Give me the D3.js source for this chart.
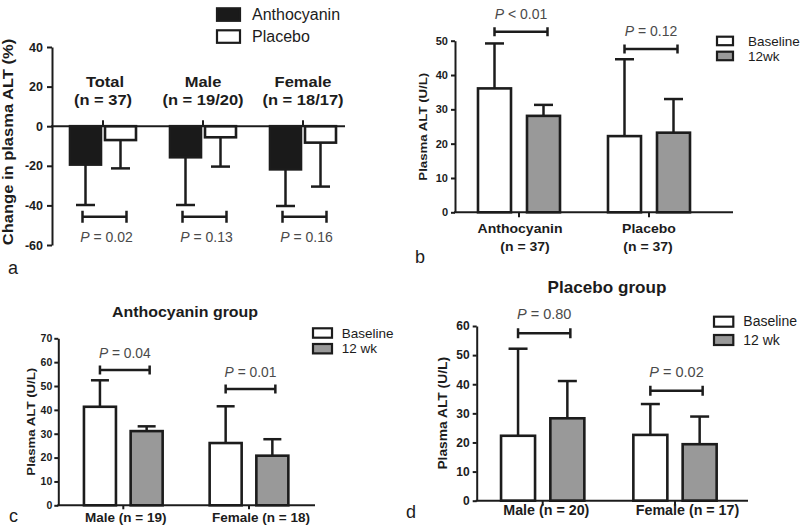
<!DOCTYPE html>
<html><head><meta charset="utf-8">
<script src="https://cdn.jsdelivr.net/npm/d3@7"></script>
<style>body{margin:0;background:#fff} svg{display:block}</style>
</head><body><svg id="c" width="800" height="531"></svg>
<script>
// ---------- DATA ----------
// Panel a: % change in plasma ALT
const aGroups = ["Total", "Male", "Female"];
const aGroupN = ["(n = 37)", "(n = 19/20)", "(n = 18/17)"];
const aSeries = ["Anthocyanin", "Placebo"];
const aAntho = [-19.4, -15.7, -21.8];
const aAnthoSD = [20.4, 24.1, 18.5];
const aPlacebo = [-7.0, -5.6, -8.3];
const aPlaceboSD = [14.3, 14.8, 22.2];
const aP = ["= 0.02", "= 0.13", "= 0.16"];
const aPLevel = [-45.7, -45.7, -45.7];
const aTicks = [40, 20, 0, -20, -40, -60];

// Panel b: plasma ALT by treatment
const bGroups = ["Anthocyanin", "Placebo"];
const bGroupN = ["(n = 37)", "(n = 37)"];
const bSeries = ["Baseline", "12wk"];
const bBaseline = [36.1, 22.2];
const bBaselineSD = [13.1, 22.4];
const bWk12 = [28.1, 23.2];
const bWk12SD = [3.2, 9.8];
const bP = ["< 0.01", "= 0.12"];
const bPLevel = [52.6, 47.6];
const bTicks = [0, 10, 20, 30, 40, 50];

// Panel c: Anthocyanin group
const cGroups = ["Male (n = 19)", "Female (n = 18)"];
const cSeries = ["Baseline", "12 wk"];
const cBaseline = [41.3, 26.1];
const cBaselineSD = [11.1, 15.4];
const cWk12 = [31.1, 20.8];
const cWk12SD = [2.0, 6.9];
const cP = ["= 0.04", "= 0.01"];
const cPLevel = [56.7, 48.7];
const cTicks = [0, 10, 20, 30, 40, 50, 60, 70];

// Panel d: Placebo group
const dGroups = ["Male (n = 20)", "Female (n = 17)"];
const dSeries = ["Baseline", "12 wk"];
const dBaseline = [22.3, 22.6];
const dBaselineSD = [29.9, 10.6];
const dWk12 = [28.3, 19.4];
const dWk12SD = [12.8, 9.5];
const dP = ["= 0.80", "= 0.02"];
const dPLevel = [57.5, 37.8];
const dTicks = [0, 10, 20, 30, 40, 50, 60];

// ---------- DRAWING ----------
const INK = "#1c1c1c";
const FONT = "'Liberation Sans', Arial, Helvetica, sans-serif";
const svg = d3.select("#c").attr("font-family", FONT);

function T(g, x, y, str, o = {}) {
  return g.append("text")
    .attr("transform", `translate(${x},${y}) rotate(${o.rot || 0}) scale(${o.sx || 1},1)`)
    .attr("text-anchor", o.anchor || "middle")
    .attr("font-size", o.size || 12)
    .attr("font-weight", o.weight || "normal")
    .attr("fill", o.fill || INK)
    .text(str);
}
function pText(g, x, y, rest, size) {
  const t = g.append("text").attr("x", x).attr("y", y).attr("text-anchor", "middle")
    .attr("font-size", size).attr("fill", "#4a4a4a");
  t.append("tspan").attr("font-style", "italic").text("P");
  t.append("tspan").text(" " + rest);
}

function panel(cfg) {
  const g = svg.append("g");
  const y = d3.scaleLinear().domain(cfg.yDomain).range(cfg.yRange);
  const n = cfg.groups.length, step = cfg.step, gw = cfg.groupW, bw = cfg.barW;
  const pad = 1 - gw / step;
  const x = d3.scaleBand().domain(cfg.groups)
    .range([cfg.c0 - step / 2, cfg.c0 - step / 2 + n * step])
    .paddingInner(pad).paddingOuter(pad / 2);
  const xs = d3.scaleBand().domain(cfg.series).range([0, gw])
    .paddingInner((gw - 2 * bw) / (gw - bw)).paddingOuter(0);

  const rows = [];
  cfg.groups.forEach((gr, i) => cfg.series.forEach((s, j) =>
    rows.push({ gr, s, j, v: cfg.values[j][i], sd: cfg.sds[j][i] })));
  const cx = d => x(d.gr) + xs(d.s) + xs.bandwidth() / 2;
  const end = d => d.v + Math.sign(d.v) * d.sd;

  // error bars
  g.selectAll("line.eb").data(rows).join("line").attr("class", "eb")
    .attr("x1", cx).attr("x2", cx).attr("y1", d => y(d.v)).attr("y2", d => y(end(d)))
    .attr("stroke", INK).attr("stroke-width", 2.5);
  g.selectAll("line.cap").data(rows).join("line").attr("class", "cap")
    .attr("x1", d => cx(d) - cfg.cap).attr("x2", d => cx(d) + cfg.cap)
    .attr("y1", d => y(end(d))).attr("y2", d => y(end(d)))
    .attr("stroke", INK).attr("stroke-width", 2.5);
  // bars
  g.selectAll("rect.bar").data(rows).join("rect").attr("class", "bar")
    .attr("x", d => x(d.gr) + xs(d.s)).attr("width", xs.bandwidth())
    .attr("y", d => Math.min(y(d.v), y(0))).attr("height", d => Math.abs(y(d.v) - y(0)))
    .attr("fill", d => cfg.fills[d.j]).attr("stroke", INK).attr("stroke-width", 2.6);

  // y axis
  const ya = g.append("g").attr("transform", `translate(${cfg.x0},0)`)
    .call(d3.axisLeft(y).tickValues(cfg.ticks).tickFormat(d => String(d))
      .tickSize(cfg.tickLen).tickPadding(cfg.tickPad).tickSizeOuter(0));
  ya.attr("font-family", FONT);
  ya.select(".domain").attr("stroke", INK).attr("stroke-width", 2);
  ya.selectAll(".tick line").attr("stroke", INK).attr("stroke-width", 2);
  ya.selectAll(".tick text").attr("font-size", cfg.tickFont).attr("font-weight", "bold").attr("fill", INK);

  // x axis line and category ticks
  g.append("line").attr("x1", cfg.x0 - 1).attr("x2", cfg.xEnd).attr("y1", y(0)).attr("y2", y(0))
    .attr("stroke", INK).attr("stroke-width", 2);
  const xa = g.append("g").attr("transform", `translate(0,${y(0)})`)
    .call(d3.axisBottom(x).tickSize(cfg.xTick).tickFormat(""));
  xa.select(".domain").remove();
  xa.selectAll(".tick line").attr("stroke", INK).attr("stroke-width", 2);

  // category labels
  cfg.labels.forEach((arr, k) => arr.forEach((lab, i) => {
    const gc = x(cfg.groups[i]) + gw / 2 + (cfg.labelDx ? cfg.labelDx[k][i] : 0);
    T(g, gc, cfg.labelY[k], lab, { size: cfg.labelSize, weight: "bold", sx: cfg.labelSx });
  }));

  // significance brackets
  cfg.groups.forEach((gr, i) => {
    const x1 = x(gr) + xs(cfg.series[0]) + xs.bandwidth() / 2 + cfg.brL;
    const x2 = x(gr) + xs(cfg.series[1]) + xs.bandwidth() / 2 + cfg.brR;
    const yy = y(cfg.pLevel[i]);
    g.append("path")
      .attr("d", `M${x1},${yy - cfg.brH}V${yy + cfg.brH}M${x1},${yy}H${x2}M${x2},${yy - cfg.brH}V${yy + cfg.brH}`)
      .attr("fill", "none").attr("stroke", INK).attr("stroke-width", 2.5);
    pText(g, (x1 + x2) / 2 + cfg.pDx, yy + cfg.pDy, cfg.p[i], cfg.pSize);
  });

  // y label
  const yc = cfg.yLabel;
  T(g, yc.x, yc.y, yc.text, { size: yc.size, weight: "bold", rot: -90, sx: yc.sx });

  // legend
  const L = cfg.legend;
  cfg.series.forEach((s, j) => {
    g.append("rect").attr("x", L.x).attr("y", L.ys[j]).attr("width", L.w).attr("height", L.h)
      .attr("fill", cfg.fills[j]).attr("stroke", INK).attr("stroke-width", 2.2);
    T(g, L.tx, L.ys[j] + L.h + L.tdy, s, { size: L.size, anchor: "start" });
  });

  if (cfg.title) T(g, cfg.title.x, cfg.title.y, cfg.title.text, { size: cfg.title.size, weight: "bold", sx: cfg.title.sx });
  T(g, cfg.letter.x, cfg.letter.y, cfg.letter.t, { size: 18, anchor: "start" });
}

// Panel a
panel({
  groups: aGroups, series: aSeries, values: [aAntho, aPlacebo], sds: [aAnthoSD, aPlaceboSD],
  fills: ["#1a1a1a", "#ffffff"], yDomain: [-60, 40], yRange: [245, 47], ticks: aTicks,
  x0: 52, xEnd: 345, c0: 103, step: 100, groupW: 66, barW: 31, cap: 9.5, xTick: -6,
  tickLen: 5, tickPad: 4, tickFont: 12.5,
  labels: [aGroups, aGroupN], labelY: [86.7, 105], labelSize: 15, labelSx: 1.1,
  labelDx: [[2, 0, 0], [0, 0, 0]],
  p: aP, pLevel: aPLevel, brL: -3, brR: 6, brH: 6, pDx: 2, pDy: 25, pSize: 14,
  yLabel: { text: "Change in plasma ALT (%)", x: 12.7, y: 142, size: 14, sx: 1.18 },
  legend: { x: 217, w: 23, h: 12.5, ys: [8.3, 30.3], tx: 252, tdy: -0.5, size: 16 },
  letter: { x: 8, y: 274, t: "a" }
});

// Panel b
panel({
  groups: bGroups, series: bSeries, values: [bBaseline, bWk12], sds: [bBaselineSD, bWk12SD],
  fills: ["#ffffff", "#999999"], yDomain: [0, 50], yRange: [212.3, 40.7], ticks: bTicks,
  x0: 455, xEnd: 733, c0: 519, step: 130, groupW: 82, barW: 33, cap: 9.5, xTick: 5,
  tickLen: 4, tickPad: 3, tickFont: 11,
  labels: [bGroups, bGroupN], labelY: [233.3, 251], labelSize: 12, labelSx: 1.17,
  labelDx: [[1, 0], [6, -1]],
  p: bP, pLevel: bPLevel, brL: 0, brR: 4, brH: 4.5, pDx: 0, pDy: -13, pSize: 14,
  yLabel: { text: "Plasma ALT (U/L)", x: 426.5, y: 126.7, size: 11.5, sx: 1.15 },
  legend: { x: 717, w: 16, h: 8.5, ys: [36.7, 51.7], tx: 748, tdy: 0.8, size: 13.5 },
  letter: { x: 415, y: 263, t: "b" }
});

// Panel c
panel({
  groups: cGroups, series: cSeries, values: [cBaseline, cWk12], sds: [cBaselineSD, cWk12SD],
  fills: ["#ffffff", "#999999"], yDomain: [0, 70], yRange: [505.3, 338.3], ticks: cTicks,
  x0: 58.3, xEnd: 315, c0: 123.3, step: 125.7, groupW: 78.7, barW: 32, cap: 9, xTick: 4,
  tickLen: 4, tickPad: 2, tickFont: 10.5,
  labels: [cGroups], labelY: [522], labelSize: 13.5, labelSx: 1.0,
  labelDx: [[2.5, 12]],
  p: cP, pLevel: cPLevel, brL: 0, brR: 3, brH: 4.5, pDx: 0, pDy: -12.5, pSize: 13.8,
  yLabel: { text: "Plasma ALT (U/L)", x: 34.9, y: 421.7, size: 11.5, sx: 1.15 },
  legend: { x: 313, w: 19, h: 9.4, ys: [328.3, 344], tx: 341.7, tdy: 0, size: 13.5 },
  title: { text: "Anthocyanin group", x: 185, y: 316.7, size: 15.5, sx: 1.03 },
  letter: { x: 9, y: 521.7, t: "c" }
});

// Panel d
panel({
  groups: dGroups, series: dSeries, values: [dBaseline, dWk12], sds: [dBaselineSD, dWk12SD],
  fills: ["#ffffff", "#999999"], yDomain: [0, 60], yRange: [500.7, 326], ticks: dTicks,
  x0: 476.7, xEnd: 748, c0: 542.7, step: 132.3, groupW: 83.3, barW: 34, cap: 9.5, xTick: 5,
  tickLen: 4, tickPad: 3, tickFont: 12,
  labels: [dGroups], labelY: [514.5], labelSize: 14, labelSx: 1.02,
  labelDx: [[3.6, 12.5]],
  p: dP, pLevel: dPLevel, brL: 0, brR: 3, brH: 5, pDx: 0, pDy: -14, pSize: 14.5,
  yLabel: { text: "Plasma ALT (U/L)", x: 446.9, y: 413.3, size: 12, sx: 1.15 },
  legend: { x: 714, w: 19.3, h: 10, ys: [316.7, 335], tx: 743.3, tdy: -0.5, size: 14 },
  title: { text: "Placebo group", x: 607, y: 293.3, size: 16, sx: 1.07 },
  letter: { x: 406, y: 518, t: "d" }
});
</script>
</body></html>
